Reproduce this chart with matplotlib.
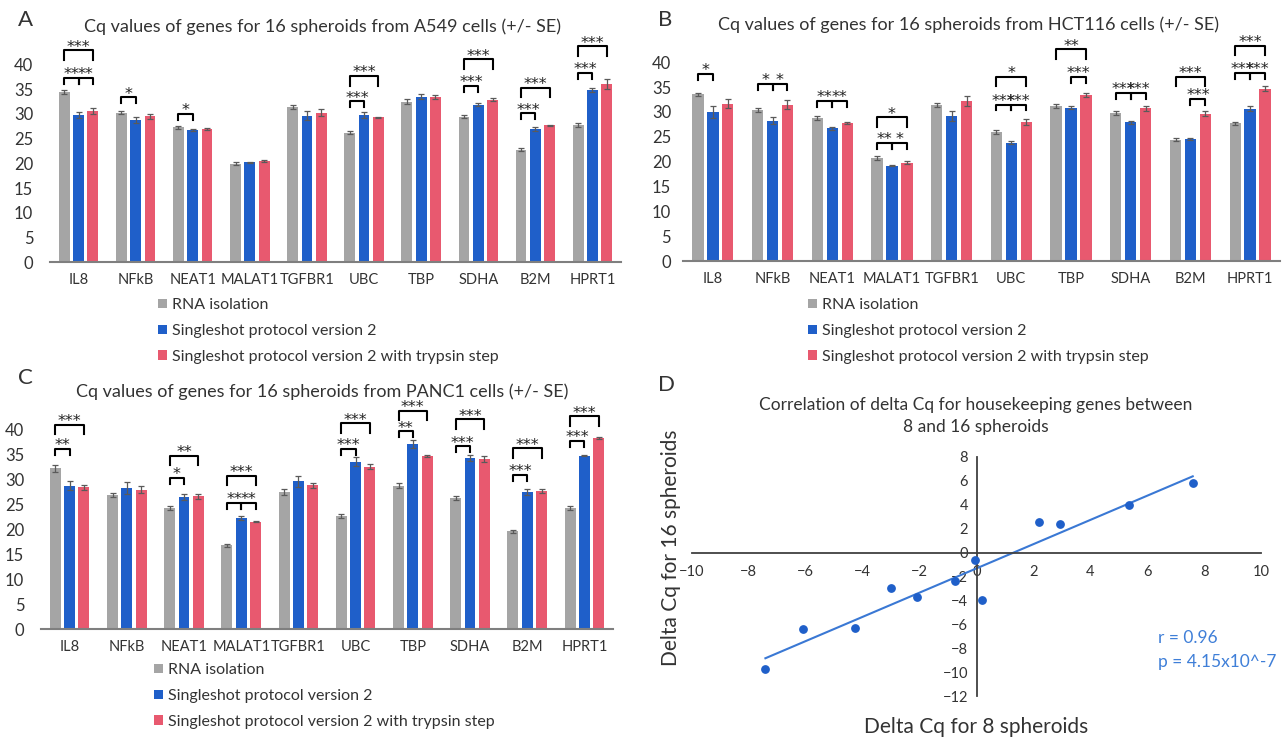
import numpy as np
import matplotlib.pyplot as plt

plt.rcParams['font.family'] = ['Lato', 'DejaVu Sans']
plt.rcParams['text.color'] = '#333333'
plt.rcParams['xtick.color'] = '#333333'
plt.rcParams['ytick.color'] = '#333333'

W, H = 1284, 742

genes = ["IL8", "NFkB", "NEAT1", "MALAT1", "TGFBR1", "UBC", "TBP", "SDHA", "B2M", "HPRT1"]
series_names = ["RNA isolation", "Singleshot protocol version 2",
                "Singleshot protocol version 2 with trypsin step"]
colors = ["#a5a5a5", "#1f5fc9", "#e8596f"]

# ---- A549 ----
a549_rna = [34.5, 30.2, 27.3, 19.9, 31.3, 26.2, 32.4, 29.4, 22.7, 27.7]
a549_v2 = [29.8, 28.7, 26.7, 20.2, 29.6, 29.7, 33.4, 31.8, 26.9, 34.8]
a549_tryp = [30.6, 29.5, 26.9, 20.4, 30.2, 29.3, 33.4, 32.8, 27.7, 36.1]
a549_rna_se = [0.4, 0.3, 0.3, 0.3, 0.4, 0.3, 0.5, 0.3, 0.3, 0.4]
a549_v2_se = [0.6, 0.6, 0.2, 0.1, 0.9, 0.6, 0.5, 0.3, 0.4, 0.4]
a549_tryp_se = [0.6, 0.5, 0.15, 0.2, 0.7, 0.1, 0.4, 0.3, 0.1, 1.0]
# (gene, bar i, bar j, bracket top, stars)
a549_sig = [(0, 0, 1, 37.3, "**"), (0, 1, 2, 37.3, "**"), (0, 0, 2, 42.8, "***"),
            (1, 0, 1, 33.3, "*"), (2, 0, 1, 30.0, "*"),
            (5, 0, 1, 32.5, "***"), (5, 0, 2, 37.6, "***"),
            (7, 0, 1, 35.6, "***"), (7, 0, 2, 41.0, "***"),
            (8, 0, 1, 30.1, "***"), (8, 0, 2, 35.2, "***"),
            (9, 0, 1, 38.2, "***"), (9, 0, 2, 43.6, "***")]

# ---- HCT116 ----
hct_rna = [33.6, 30.4, 28.7, 20.7, 31.4, 26.0, 31.2, 29.7, 24.4, 27.7]
hct_v2 = [30.0, 28.2, 26.7, 19.2, 29.2, 23.8, 30.8, 27.9, 24.6, 30.6]
hct_tryp = [31.7, 31.5, 27.8, 19.8, 32.2, 28.0, 33.4, 30.7, 29.6, 34.7]
hct_rna_se = [0.3, 0.4, 0.4, 0.4, 0.5, 0.4, 0.4, 0.4, 0.3, 0.3]
hct_v2_se = [1.2, 0.7, 0.3, 0.15, 1.0, 0.3, 0.3, 0.3, 0.2, 0.5]
hct_tryp_se = [1.0, 1.0, 0.2, 0.3, 1.1, 0.6, 0.4, 0.5, 0.5, 0.5]
hct_sig = [(0, 0, 1, 37.7, "*"),
           (1, 0, 1, 35.6, "*"), (1, 1, 2, 35.6, "*"),
           (2, 0, 1, 32.2, "**"), (2, 1, 2, 32.2, "**"),
           (3, 0, 1, 23.7, "**"), (3, 1, 2, 23.7, "*"), (3, 0, 2, 28.9, "*"),
           (5, 0, 1, 31.5, "***"), (5, 1, 2, 31.5, "***"), (5, 0, 2, 37.1, "*"),
           (6, 1, 2, 37.1, "***"), (6, 0, 2, 42.6, "**"),
           (7, 0, 1, 33.9, "***"), (7, 1, 2, 33.9, "***"),
           (8, 1, 2, 32.6, "***"), (8, 0, 2, 37.1, "***"),
           (9, 0, 1, 37.9, "***"), (9, 1, 2, 37.9, "***"), (9, 0, 2, 43.3, "***")]

# ---- PANC1 ----
panc_rna = [32.3, 26.9, 24.4, 16.8, 27.6, 22.8, 28.8, 26.4, 19.6, 24.4]
panc_v2 = [28.8, 28.4, 26.5, 22.4, 29.7, 33.6, 37.1, 34.3, 27.5, 34.8]
panc_tryp = [28.5, 28.0, 26.7, 21.5, 28.9, 32.6, 34.7, 34.1, 27.8, 38.4]
panc_rna_se = [0.7, 0.4, 0.4, 0.3, 0.6, 0.4, 0.5, 0.4, 0.3, 0.4]
panc_v2_se = [0.9, 1.2, 0.6, 0.4, 1.1, 0.9, 0.8, 0.6, 0.6, 0.1]
panc_tryp_se = [0.5, 0.7, 0.5, 0.1, 0.5, 0.5, 0.2, 0.6, 0.4, 0.2]
panc_sig = [(0, 0, 1, 36.2, "**"), (0, 0, 2, 41.0, "***"),
            (2, 0, 1, 30.3, "*"), (2, 0, 2, 34.8, "**"),
            (3, 0, 1, 25.3, "**"), (3, 1, 2, 25.3, "**"), (3, 0, 2, 30.8, "***"),
            (5, 0, 1, 36.2, "***"), (5, 0, 2, 41.3, "***"),
            (6, 0, 1, 39.7, "**"), (6, 0, 2, 43.8, "***"),
            (7, 0, 1, 36.7, "***"), (7, 0, 2, 42.1, "***"),
            (8, 0, 1, 31.0, "***"), (8, 0, 2, 36.3, "***"),
            (9, 0, 1, 37.8, "***"), (9, 0, 2, 42.7, "***")]

# ---- correlation (delta Cq) ----
dcq_8 = [7.6, 5.35, 2.2, 2.92, -0.06, -0.76, 0.19, -3.0, -2.09, -4.28, -6.09, -7.42]
dcq_16 = [5.8, 4.0, 2.6, 2.38, -0.62, -2.38, -3.97, -2.94, -3.72, -6.35, -6.4, -9.76]


def axes_px(fig, left, top, right, bottom):
    return fig.add_axes([left / W, 1 - bottom / H, (right - left) / W, (bottom - top) / H])


def bar_panel(ax, vals, errs, sig, ypad):
    x = np.arange(len(genes))
    offs = [-0.25, 0, 0.25]
    bars = []
    for k in range(3):
        b = ax.bar(x + offs[k], vals[k], width=0.19, color=colors[k], label=series_names[k], zorder=2)
        ax.errorbar(x + offs[k], vals[k], yerr=errs[k], fmt='none', ecolor='#5a5a5a',
                    elinewidth=0.9, capsize=2.5, capthick=0.9, zorder=3)
        bars.append(b)
    for g, i, j, top, lab in sig:
        x1, x2 = g + offs[i], g + offs[j]
        drop = 1.9 if j - i == 2 else 1.2
        ax.plot([x1, x1, x2, x2], [top - drop, top, top, top - drop], color='black',
                lw=1.5, clip_on=False, zorder=4)
        ax.text((x1 + x2) / 2, top - 0.25, lab, ha='center', va='baseline', fontsize=11.5,
                family='DejaVu Sans', color='#222222', clip_on=False)
    ax.set_xlim(-0.5, 9.5)
    ax.set_ylim(0, 44)
    ax.set_yticks(range(0, 41, 5))
    ax.set_xticks(x)
    ax.set_xticklabels(genes)
    for s in ['top', 'right', 'left']:
        ax.spines[s].set_visible(False)
    ax.spines['bottom'].set_color('#7f7f7f')
    ax.spines['bottom'].set_linewidth(1.5)
    ax.tick_params(axis='x', length=0, pad=8, labelsize=10.5)
    ax.tick_params(axis='y', length=0, pad=ypad, labelsize=12)
    ax.patch.set_alpha(0)
    return bars


fig = plt.figure(figsize=(W / 100, H / 100), dpi=100)

# A
axA = axes_px(fig, 50, 44.5, 621, 262.3)
barsA = bar_panel(axA, [a549_rna, a549_v2, a549_tryp],
                  [a549_rna_se, a549_v2_se, a549_tryp_se], a549_sig, 12)
fig.text(323 / W, 1 - 27 / H, "Cq values of genes for 16 spheroids from A549 cells (+/- SE)",
         ha='center', va='center', fontsize=13)
fig.text(25 / W, 1 - 20 / H, "A", ha='center', va='center', fontsize=16)

# B
axB = axes_px(fig, 683, 42.4, 1280, 261)
bar_panel(axB, [hct_rna, hct_v2, hct_tryp],
          [hct_rna_se, hct_v2_se, hct_tryp_se], hct_sig, 8.5)
fig.text(969 / W, 1 - 25 / H, "Cq values of genes for 16 spheroids from HCT116 cells (+/- SE)",
         ha='center', va='center', fontsize=13)
fig.text(665 / W, 1 - 20 / H, "B", ha='center', va='center', fontsize=16)

# C
axC = axes_px(fig, 41, 410, 613, 629)
bar_panel(axC, [panc_rna, panc_v2, panc_tryp],
          [panc_rna_se, panc_v2_se, panc_tryp_se], panc_sig, 12)
fig.text(322 / W, 1 - 392 / H, "Cq values of genes for 16 spheroids from PANC1 cells (+/- SE)",
         ha='center', va='center', fontsize=13)
fig.text(25 / W, 1 - 378 / H, "C", ha='center', va='center', fontsize=16)

# legends
for lx, ly in [(158, 298), (808, 298), (154, 663)]:
    fig.legend(handles=barsA, labels=series_names, loc='upper left',
               bbox_to_anchor=(lx / W, 1 - ly / H), frameon=False, fontsize=11.5,
               handlelength=0.55, handleheight=0.55, handletextpad=0.3,
               labelspacing=0.75, borderpad=0, borderaxespad=0)

# D
axD = axes_px(fig, 692, 457, 1261, 696)
axD.scatter(dcq_8, dcq_16, s=28, color='#1f5fc9', zorder=3)
slope, icpt = np.polyfit(dcq_8, dcq_16, 1)
xs = np.array([min(dcq_8), max(dcq_8)])
axD.plot(xs, slope * xs + icpt, color='#3a78d4', lw=1.5, zorder=2)
axD.set_xlim(-10, 10)
axD.set_ylim(-12, 8)
axD.spines['left'].set_position(('data', 0))
axD.spines['bottom'].set_position(('data', 0))
axD.spines['top'].set_visible(False)
axD.spines['right'].set_visible(False)
for s in ['left', 'bottom']:
    axD.spines[s].set_color('#404040')
    axD.spines[s].set_linewidth(1.3)
axD.set_xticks(range(-10, 11, 2))
axD.set_yticks(range(-12, 9, 2))
axD.tick_params(length=0, labelsize=10.5)
axD.tick_params(axis='x', pad=9)
axD.tick_params(axis='y', pad=6)
axD.patch.set_alpha(0)
fig.text(1158 / W, 1 - 638 / H, "r = 0.96", ha='left', va='center', fontsize=12.5, color='#3f7fd8')
fig.text(1158 / W, 1 - 662 / H, "p = 4.15x10^-7", ha='left', va='center', fontsize=12.5, color='#3f7fd8')
fig.text(976 / W, 1 - 416 / H, "Correlation of delta Cq for housekeeping genes between\n8 and 16 spheroids",
         ha='center', va='center', fontsize=12.5, linespacing=1.45)
fig.text(667 / W, 1 - 385 / H, "D", ha='center', va='center', fontsize=16)
fig.text(671 / W, 1 - 548 / H, "Delta Cq for 16 spheroids", rotation=90, ha='center', va='center', fontsize=15)
fig.text(976 / W, 1 - 727 / H, "Delta Cq for 8 spheroids", ha='center', va='center', fontsize=15)

fig.savefig("out.png", dpi=100)
